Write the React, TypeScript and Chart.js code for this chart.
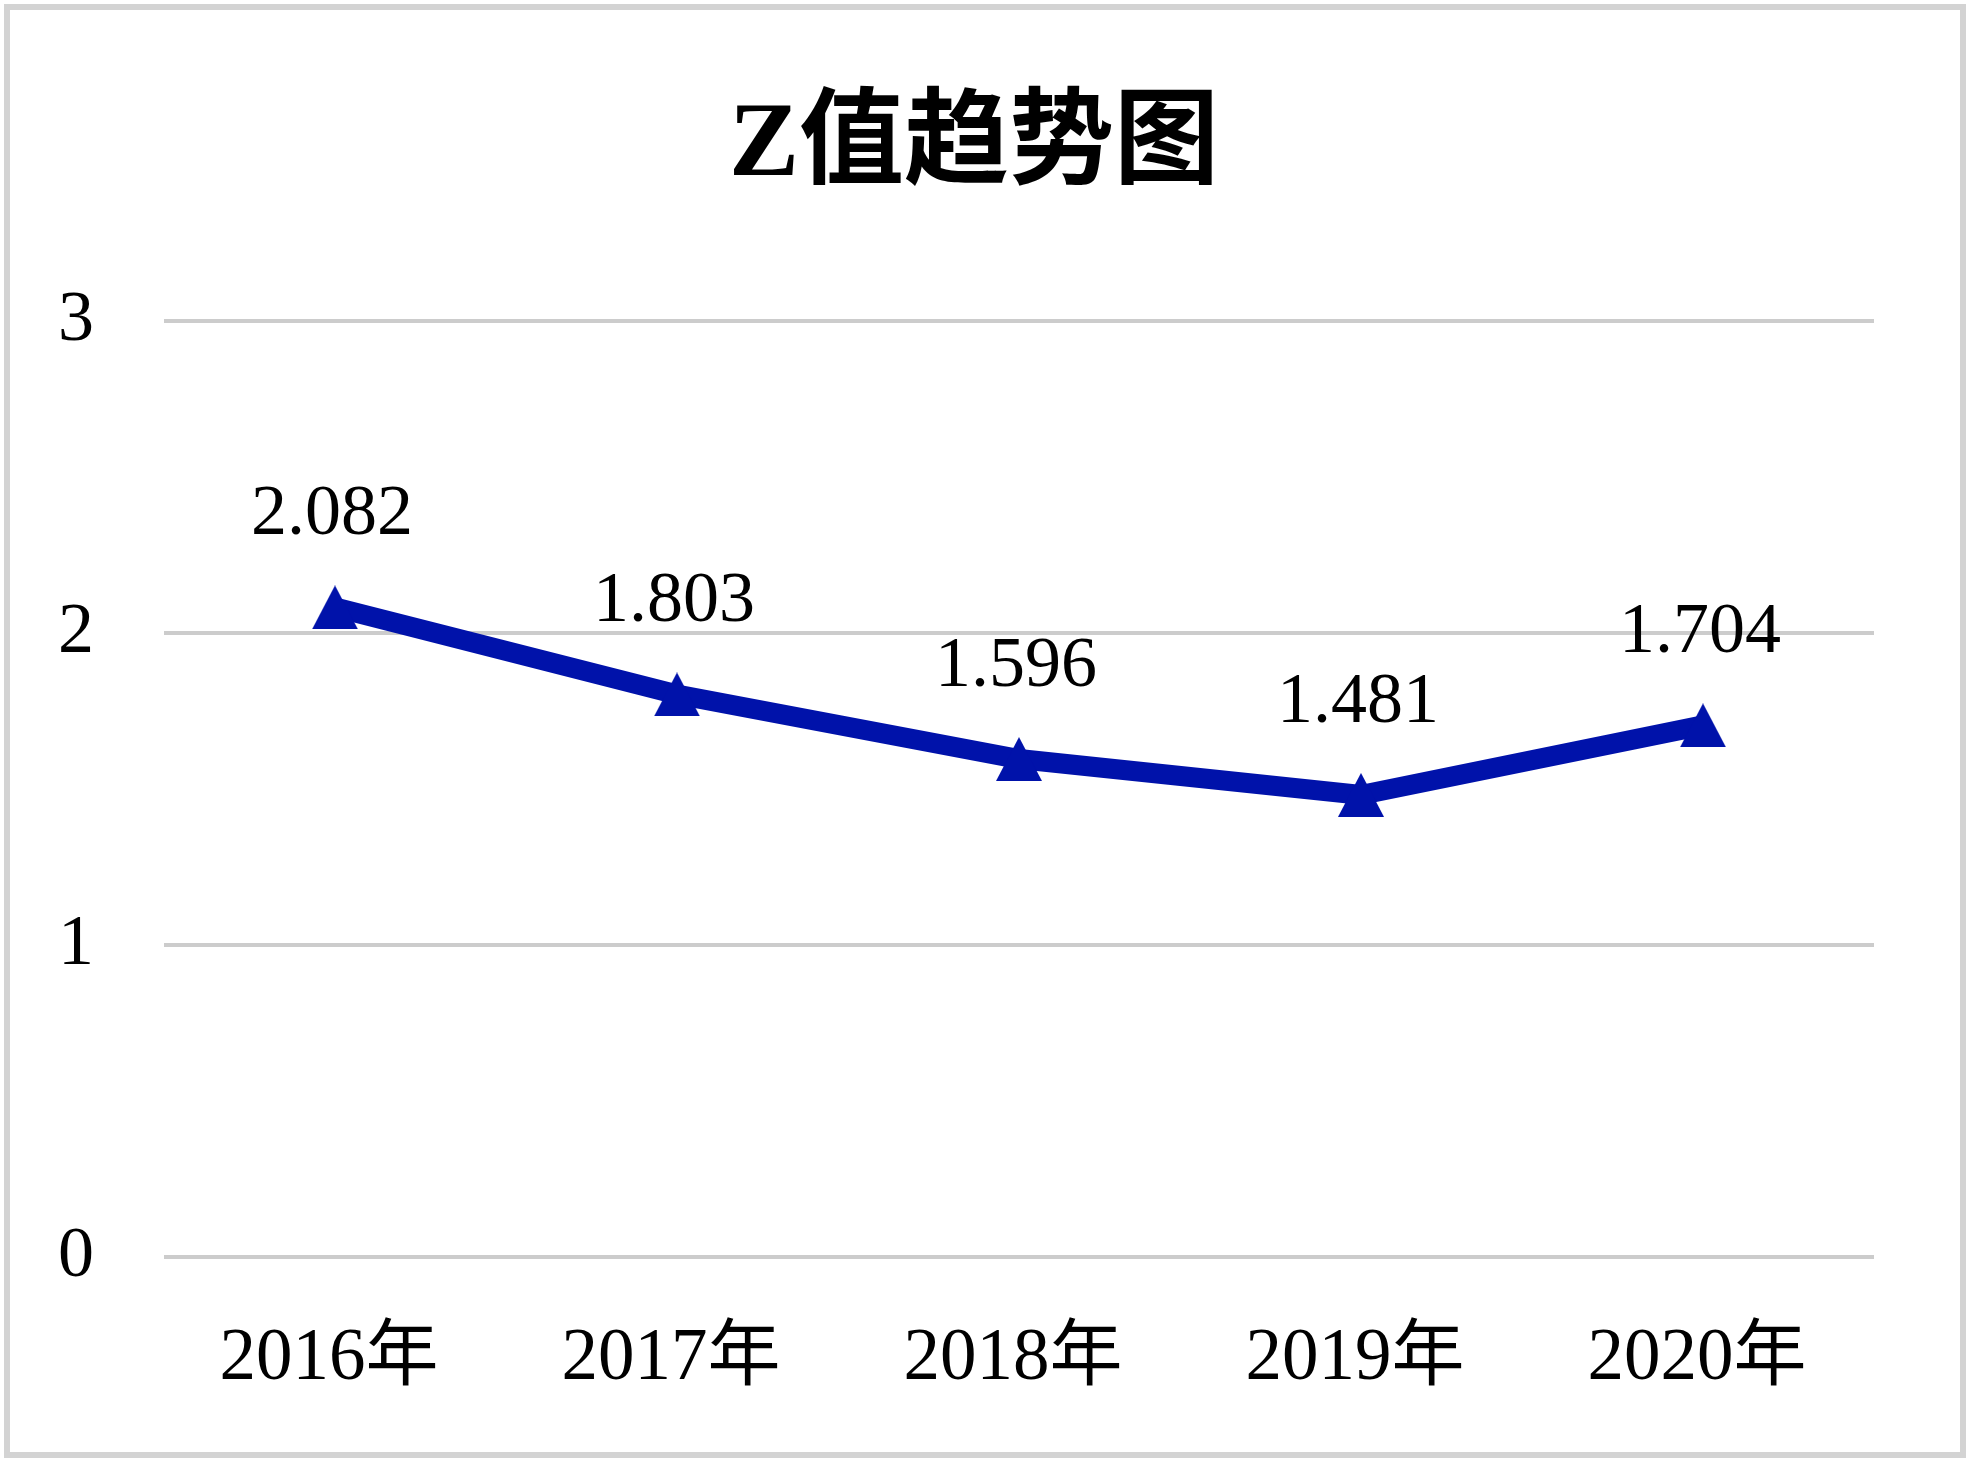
import React, { useEffect, useRef } from "react";
import { Chart, registerables } from "chart.js";

Chart.register(...registerables);

// ---- data ----
const categories: string[] = ["2016年", "2017年", "2018年", "2019年", "2020年"];
const zValues: number[] = [2.082, 1.803, 1.596, 1.481, 1.704];
const yMin = 0;
const yMax = 3;
const yStep = 1;
const chartTitle = "Z值趋势图";

// ---- styles ----
const W = 1969;
const H = 1461;
const SERIF = '"Liberation Serif", "Times New Roman", "Noto Sans CJK SC", serif';
const LINE_COLOR = "rgb(0, 18, 170)";
const GRID_COLOR = "#cccccc";

function makeTriangle(color: string): HTMLCanvasElement {
  const c = document.createElement("canvas");
  c.width = 46;
  c.height = 44;
  const ctx = c.getContext("2d")!;
  ctx.fillStyle = color;
  ctx.beginPath();
  ctx.moveTo(23, 0);
  ctx.lineTo(46, 44);
  ctx.lineTo(0, 44);
  ctx.closePath();
  ctx.fill();
  return c;
}

export default function App() {
  const ref = useRef<HTMLCanvasElement | null>(null);

  useEffect(() => {
    document.body.style.margin = "0";
    const canvas = ref.current!;
    const tri = makeTriangle(LINE_COLOR);

    const decor = {
      id: "decor",
      afterDraw(chart: any) {
        const ctx = chart.ctx as CanvasRenderingContext2D;
        ctx.save();
        // frame
        ctx.strokeStyle = "#d3d3d3";
        ctx.lineWidth = 6;
        ctx.strokeRect(7, 7, 1956, 1448);
        // title
        ctx.fillStyle = "#000";
        ctx.font = `bold 105px ${SERIF}`;
        ctx.textAlign = "center";
        ctx.textBaseline = "middle";
        ctx.fillText(chartTitle, 974, 148);
        // data labels
        const meta = chart.getDatasetMeta(0);
        ctx.font = `72px ${SERIF}`;
        meta.data.forEach((pt: any, i: number) => {
          ctx.fillText(zValues[i].toFixed(3), pt.x - 3, pt.y - 92);
        });
        ctx.restore();
      },
    };

    const chart = new Chart(canvas, {
      type: "line",
      data: {
        labels: categories,
        datasets: [
          {
            data: zValues,
            borderColor: LINE_COLOR,
            backgroundColor: LINE_COLOR,
            borderWidth: 20,
            pointStyle: tri as any,
            pointRadius: 22,
            tension: 0,
            fill: false,
          },
        ],
      },
      options: {
        responsive: false,
        animation: false,
        devicePixelRatio: 1,
        layout: { padding: { top: 321, right: 95, bottom: 0, left: 0 } },
        plugins: {
          legend: { display: false },
          title: { display: false },
          tooltip: { enabled: false },
        },
        scales: {
          x: {
            type: "category",
            offset: true,
            grid: { display: false, drawTicks: false },
            border: { display: false },
            ticks: {
              color: "#000",
              font: { family: SERIF, size: 73 },
              padding: 59,
              labelOffset: -6,
              maxRotation: 0,
              autoSkip: false,
            },
            afterFit(scale: any) {
              scale.height = H - 1257;
            },
          },
          y: {
            min: yMin,
            max: yMax,
            grid: { color: GRID_COLOR, lineWidth: 4, drawTicks: false },
            border: { display: false },
            ticks: {
              stepSize: yStep,
              color: "#000",
              font: { family: SERIF, size: 72 },
              padding: 70,
            },
            afterFit(scale: any) {
              scale.width = 164;
            },
          },
        },
      },
      plugins: [decor],
    });

    return () => chart.destroy();
  }, []);

  return (
    <div style={{ width: W, height: H }}>
      <canvas ref={ref} width={W} height={H} style={{ display: "block", width: W, height: H }} />
    </div>
  );
}
